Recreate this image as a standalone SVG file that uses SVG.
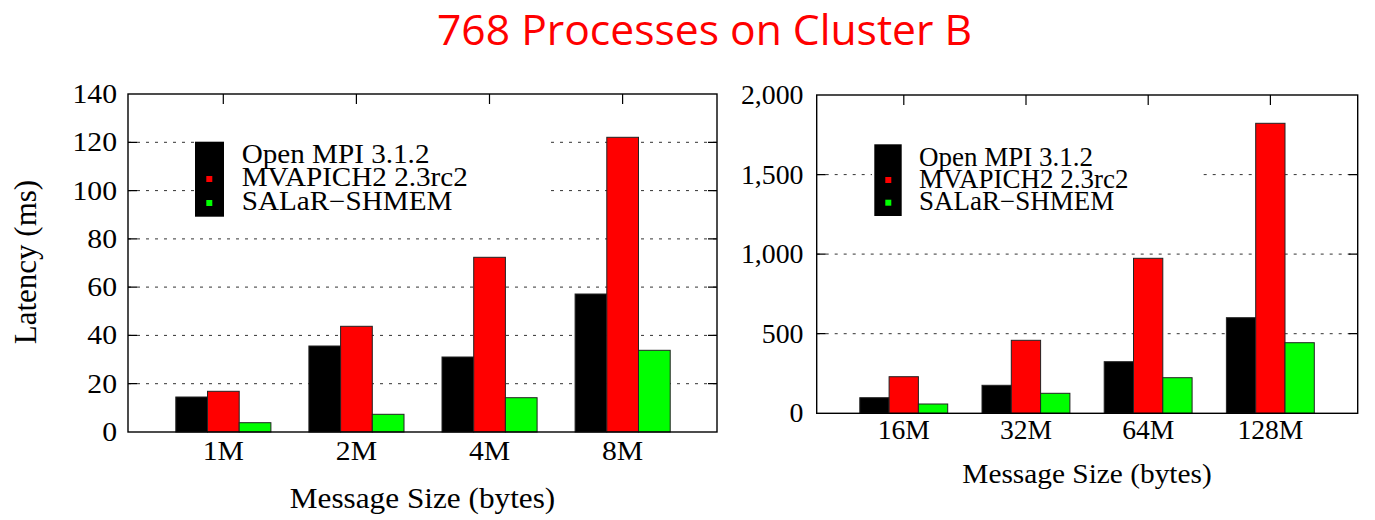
<svg xmlns="http://www.w3.org/2000/svg" width="1375" height="520" viewBox="0 0 1375 520">
<style>
.t{font-family:"Liberation Serif","Times New Roman",serif;fill:#000}
.grid{stroke:#333;stroke-width:1;stroke-dasharray:3 6;fill:none}
.frame{fill:none;stroke:#000;stroke-width:1.4}
.tick{stroke:#000;stroke-width:1.2}
.b0{fill:#000;stroke:#222;stroke-width:1}
.b1{fill:#ff0000;stroke:#222;stroke-width:1}
.b2{fill:#00ff00;stroke:#222;stroke-width:1}
</style>
<rect width="1375" height="520" fill="#fff"/>
<g id="title">
<text x="437" y="45" font-family="'Open Sans','Noto Sans',sans-serif" font-size="42" fill="#ff0000" textLength="535" lengthAdjust="spacingAndGlyphs">768 Processes on Cluster B</text>
</g>

<g id="chart-left">
<g id="left-grid">
<line class="grid" x1="128" y1="383.7" x2="717" y2="383.7"/>
<line class="grid" x1="128" y1="335.4" x2="717" y2="335.4"/>
<line class="grid" x1="128" y1="287.1" x2="717" y2="287.1"/>
<line class="grid" x1="128" y1="238.9" x2="717" y2="238.9"/>
<line class="grid" x1="128" y1="190.6" x2="717" y2="190.6"/>
<line class="grid" x1="128" y1="142.3" x2="717" y2="142.3"/>
<rect x="195" y="136" width="356" height="86" fill="#fff"/>
</g>
<g id="left-bars">
<rect class="b0" x="175.8" y="397" width="31.7" height="35"/>
<rect class="b1" x="207.5" y="391.3" width="31.7" height="40.7"/>
<rect class="b2" x="239.2" y="422.7" width="31.7" height="9.3"/>
<rect class="b0" x="308.9" y="346" width="31.7" height="86"/>
<rect class="b1" x="340.6" y="326.3" width="31.7" height="105.7"/>
<rect class="b2" x="372.3" y="414.3" width="31.7" height="17.7"/>
<rect class="b0" x="442" y="357" width="31.7" height="75"/>
<rect class="b1" x="473.7" y="257.3" width="31.7" height="174.7"/>
<rect class="b2" x="505.4" y="397.7" width="31.7" height="34.3"/>
<rect class="b0" x="575.1" y="294" width="31.7" height="138"/>
<rect class="b1" x="606.8" y="137.3" width="31.7" height="294.7"/>
<rect class="b2" x="638.5" y="350.3" width="31.7" height="81.7"/>
</g>
<g id="left-axes">
<rect class="frame" x="128" y="94" width="589" height="338"/>
<path class="tick" d="M223.3 94v10M356.4 94v10M489.5 94v10M622.6 94v10M128 383.7h9M128 335.4h9M128 287.1h9M128 238.9h9M128 190.6h9M128 142.3h9M717 383.7h-9M717 335.4h-9M717 287.1h-9M717 238.9h-9M717 190.6h-9M717 142.3h-9"/>
<g class="t" font-size="27" text-anchor="end">
<text transform="translate(117,441) scale(1.1,1)">0</text>
<text transform="translate(117,392.7) scale(1.1,1)">20</text>
<text transform="translate(117,344.4) scale(1.1,1)">40</text>
<text transform="translate(117,296.1) scale(1.1,1)">60</text>
<text transform="translate(117,247.9) scale(1.1,1)">80</text>
<text transform="translate(117,199.6) scale(1.1,1)">100</text>
<text transform="translate(117,151.3) scale(1.1,1)">120</text>
<text transform="translate(117,103) scale(1.1,1)">140</text>
</g>
<g class="t" font-size="27" text-anchor="middle">
<text transform="translate(223.3,460) scale(1.1,1)">1M</text>
<text transform="translate(356.4,460) scale(1.1,1)">2M</text>
<text transform="translate(489.5,460) scale(1.1,1)">4M</text>
<text transform="translate(622.6,460) scale(1.1,1)">8M</text>
</g>
<text class="t" font-size="29.5" text-anchor="middle" transform="translate(422.5,508) scale(1.06,1)">Message Size (bytes)</text>
<text class="t" font-size="31" text-anchor="middle" transform="translate(36,262) rotate(-90)">Latency (ms)</text>
</g>
<g id="left-legend">
<rect x="195" y="141.7" width="29" height="75" fill="#000"/>
<rect x="206.3" y="176" width="6" height="6" fill="#ff0000"/>
<rect x="206.3" y="200" width="6" height="6" fill="#00ff00"/>
<g class="t" font-size="26.5">
<text transform="translate(241.7,162.7) scale(1.1,1)">Open MPI 3.1.2</text>
<text transform="translate(241.7,186) scale(1.1,1)">MVAPICH2 2.3rc2</text>
<text transform="translate(241.7,210) scale(1.1,1)">SALaR−SHMEM</text>
</g>
</g>
</g>

<g id="chart-right">
<g id="right-grid">
<line class="grid" x1="816.7" y1="333.7" x2="1357.7" y2="333.7"/>
<line class="grid" x1="816.7" y1="254.1" x2="1357.7" y2="254.1"/>
<line class="grid" x1="816.7" y1="174.6" x2="1357.7" y2="174.6"/>
<rect x="872" y="138" width="329.7" height="84" fill="#fff"/>
</g>
<g id="right-bars">
<rect class="b0" x="859.8" y="397.7" width="29.3" height="15.6"/>
<rect class="b1" x="889.1" y="376.7" width="29.3" height="36.6"/>
<rect class="b2" x="918.4" y="404" width="29.3" height="9.3"/>
<rect class="b0" x="982" y="385.3" width="29.3" height="28"/>
<rect class="b1" x="1011.3" y="340.3" width="29.3" height="73"/>
<rect class="b2" x="1040.6" y="393.3" width="29.3" height="20"/>
<rect class="b0" x="1104.2" y="361.7" width="29.3" height="51.6"/>
<rect class="b1" x="1133.5" y="258.3" width="29.3" height="155"/>
<rect class="b2" x="1162.8" y="377.7" width="29.3" height="35.6"/>
<rect class="b0" x="1226.4" y="317.7" width="29.3" height="95.6"/>
<rect class="b1" x="1255.7" y="123.3" width="29.3" height="290"/>
<rect class="b2" x="1285" y="342.7" width="29.3" height="70.6"/>
</g>
<g id="right-axes">
<rect class="frame" x="816.7" y="95" width="541" height="318.3"/>
<path class="tick" d="M903.8 95v10M1026 95v10M1148.2 95v10M1270.4 95v10M816.7 333.7h9M816.7 254.1h9M816.7 174.6h9M1357.7 333.7h-9M1357.7 254.1h-9M1357.7 174.6h-9"/>
<g class="t" font-size="26.5" text-anchor="end">
<text transform="translate(803.5,422.3) scale(1.05,1)">0</text>
<text transform="translate(803.5,342.7) scale(1.05,1)">500</text>
<text transform="translate(803.5,263.1) scale(1.05,1)">1,000</text>
<text transform="translate(803.5,183.6) scale(1.05,1)">1,500</text>
<text transform="translate(803.5,104.3) scale(1.05,1)">2,000</text>
</g>
<g class="t" font-size="26.3" text-anchor="middle">
<text transform="translate(903.8,439) scale(1.05,1)">16M</text>
<text transform="translate(1026,439) scale(1.05,1)">32M</text>
<text transform="translate(1148.2,439) scale(1.05,1)">64M</text>
<text transform="translate(1270.4,439) scale(1.05,1)">128M</text>
</g>
<text class="t" font-size="27.7" text-anchor="middle" transform="translate(1087,483.3) scale(1.06,1)">Message Size (bytes)</text>
</g>
<g id="right-legend">
<rect x="874.3" y="144.3" width="27.4" height="71.7" fill="#000"/>
<rect x="885.3" y="177" width="6" height="6" fill="#ff0000"/>
<rect x="885.3" y="199.7" width="6" height="6" fill="#00ff00"/>
<g class="t" font-size="26.5">
<text transform="translate(919,165.7) scale(1.02,1)">Open MPI 3.1.2</text>
<text transform="translate(919,187.7) scale(1.02,1)">MVAPICH2 2.3rc2</text>
<text transform="translate(919,210) scale(1.02,1)">SALaR−SHMEM</text>
</g>
</g>
</g>
</svg>
